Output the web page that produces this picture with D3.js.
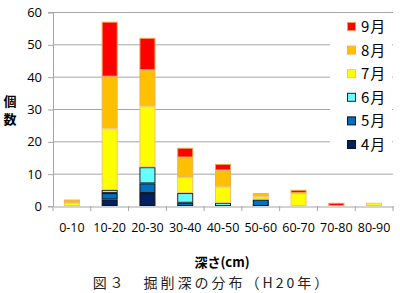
<!DOCTYPE html>
<html>
<head>
<meta charset="utf-8">
<script src="https://cdn.jsdelivr.net/npm/d3@7"></script>
<style>
body { margin: 0; background: #fff; }
svg text { font-family: "Noto Sans CJK JP", "Open Sans", sans-serif; }
</style>
</head>
<body>
<script>
var categories = ["0-10", "10-20", "20-30", "30-40", "40-50", "50-60", "60-70", "70-80", "80-90"];
var months = ["4月", "5月", "6月", "7月", "8月", "9月"];
var apr = [0, 2, 4, 0, 0, 0, 0, 0, 0];
var may = [0, 2, 3, 1, 0, 2, 0, 0, 0];
var jun = [0, 1, 5, 3, 1, 0, 0, 0, 0];
var jul = [1, 19, 19, 5, 5, 1, 4, 0, 1];
var aug = [1, 16, 11, 6, 5, 1, 0, 0, 0];
var sep = [0, 17, 10, 3, 2, 0, 1, 1, 0];
var yTicks = [0, 10, 20, 30, 40, 50, 60];

var colors = ["#002060", "#0070C0", "#66FFFF", "#FFFF00", "#FFC000", "#FF0000"];
var strokes = ["#111", "#111", "#222", "#F5C36B", "#F0B050", "#F0A040"];

var rows = categories.map(function(c, i) {
  return {cat: c, "4月": apr[i], "5月": may[i], "6月": jun[i], "7月": jul[i], "8月": aug[i], "9月": sep[i]};
});
var series = d3.stack().keys(months)(rows);

var svg = d3.select("body").append("svg")
  .attr("width", 400)
  .attr("height", 293);

var pLeft = 53, pRight = 393, pTop = 12, pBottom = 206;

var x = d3.scaleBand().domain(categories).range([pLeft, pRight]);
var y = d3.scaleLinear().domain([0, 60]).range([pBottom, pTop]);

// gridlines
svg.append("g").selectAll("line").data(yTicks.slice(1)).enter().append("line")
  .attr("x1", pLeft).attr("x2", pRight)
  .attr("y1", function(d) { return y(d) + 0.5 })
  .attr("y2", function(d) { return y(d) + 0.5 })
  .attr("stroke", "#a6a6a6").attr("stroke-width", 1);

// bars
var bw = 16;
svg.append("g").selectAll("g").data(series).enter().append("g")
  .attr("fill", function(d, i) { return colors[i] })
  .attr("stroke", function(d, i) { return strokes[i] })
  .selectAll("rect").data(function(d) { return d.filter(function(p) { return p[1] > p[0] }) })
  .enter().append("rect")
  .attr("x", function(d) { return x(d.data.cat) + x.bandwidth() / 2 - bw / 2 + 0.5 })
  .attr("width", bw - 1)
  .attr("y", function(d) { return y(d[1]) + 0.5 })
  .attr("height", function(d) { return y(d[0]) - y(d[1]) - 1 })
  .attr("stroke-width", 1);

// legend background covers the gridlines
svg.append("rect").attr("x", 330).attr("y", 16).attr("width", 62).attr("height", 150).attr("fill", "#fff");

// y axis
var yAxis = svg.append("g").attr("transform", "translate(" + pLeft + ",0)")
  .call(d3.axisLeft(y).tickValues(yTicks).tickSize(5).tickPadding(6));
yAxis.select(".domain").attr("stroke", "#a6a6a6");
yAxis.selectAll(".tick line").attr("stroke", "#a6a6a6").attr("transform", "translate(0,0.5)");
yAxis.selectAll("text").attr("font-size", 13).attr("fill", "#000").attr("dy", "0.35em")
  .style("font-family", "'Open Sans', sans-serif");

// x axis
var xAxis = svg.append("g").attr("transform", "translate(0," + (pBottom + 0.5) + ")")
  .call(d3.axisBottom(x).tickSize(0).tickPadding(17));
xAxis.select(".domain").attr("stroke", "#a6a6a6");
xAxis.selectAll("text").attr("font-size", 12.5).attr("fill", "#000")
  .style("font-family", "'Open Sans', sans-serif");
svg.append("g").selectAll("line").data(d3.range(categories.length + 1)).enter().append("line")
  .attr("x1", function(d) { return pLeft + d * x.step() })
  .attr("x2", function(d) { return pLeft + d * x.step() })
  .attr("y1", pBottom).attr("y2", pBottom + 5)
  .attr("stroke", "#a6a6a6");

// legend
var leg = svg.append("g").selectAll("g").data(months.slice().reverse()).enter().append("g")
  .attr("transform", function(d, i) { return "translate(347," + (21 + i * 23.6) + ")" });
leg.append("rect").attr("x", 0.5).attr("y", 1.5).attr("width", 8).attr("height", 8)
  .attr("fill", function(d) { return colors[months.indexOf(d)] })
  .attr("stroke", function(d) { return strokes[months.indexOf(d)] });
leg.append("text").attr("x", 14).attr("y", 11).attr("font-size", 15).attr("fill", "#000")
  .style("letter-spacing", "1px").text(function(d) { return d });

// axis titles
svg.append("text").attr("x", 10).attr("y", 106).attr("text-anchor", "middle")
  .attr("font-size", 13).attr("font-weight", "bold").text("個");
svg.append("text").attr("x", 10).attr("y", 124).attr("text-anchor", "middle")
  .attr("font-size", 13).attr("font-weight", "bold").text("数");
svg.append("text").attr("x", 222).attr("y", 267).attr("text-anchor", "middle")
  .attr("font-size", 13).attr("font-weight", "bold").text("深さ(cm)");

// caption
svg.append("text").attr("x", 212).attr("y", 288).attr("text-anchor", "middle")
  .attr("font-size", 14).attr("fill", "#222").style("letter-spacing", "3px")
  .text("図３　掘削深の分布（H20年）");
</script>
</body>
</html>
